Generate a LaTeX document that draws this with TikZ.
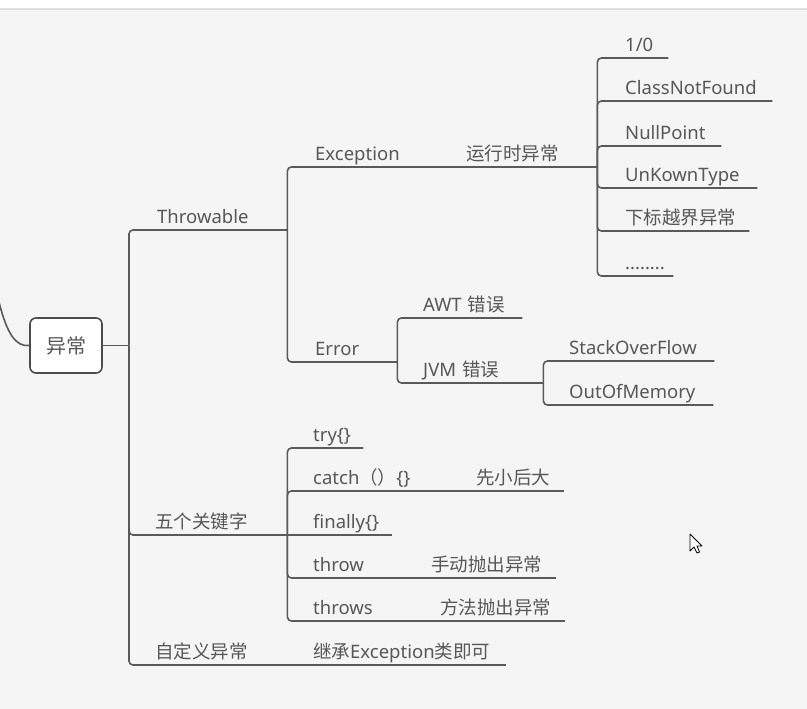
\documentclass[tikz,border=0pt]{standalone}
\usepackage{fontspec}
\setmainfont{Noto Sans}
\newfontfamily\cjk{Noto Sans CJK SC}
\definecolor{linegray}{HTML}{5A5A5A}
\definecolor{textgray}{HTML}{575757}
\definecolor{paper}{HTML}{F5F5F5}

\tikzset{
  topic/.style 2 args={anchor=south west,inner xsep=0pt,inner ysep=6pt,text depth=0pt,
    text width=#1pt,align=left,execute at begin node={\hspace*{#2pt}}},
  branch/.style={draw=linegray,line width=1.6pt,rounded corners=4pt},
  rootbox/.style={draw=linegray!85!black,fill=white,line width=1.6pt,rounded corners=6pt,
    minimum width=72pt,minimum height=55pt,font=\cjk\fontsize{20}{24}\selectfont},
}

\begin{document}
\begin{tikzpicture}[x=1pt,y=-1pt,font=\fontsize{18.5}{22}\selectfont,text=textgray]
    \useasboundingbox (0,0) rectangle (807,709);
    \fill[paper] (-5,-5) rectangle (812,714);
    \fill[white] (-5,-5) rectangle (812,8);
    \draw[black!12,line width=1.5pt] (-5,9) -- (812,9);

    % root
    \node[rootbox] (ROOT) at (66,345.5) {异常};
    \coordinate (IN) at (-1,302);
    \draw[branch] (IN) .. controls (7,334) and (16,347) .. (ROOT.west);

    \node[topic={158}{28}] (THR) at (129,230) {Throwable};
    \node[topic={158}{26}] (KW) at (129,535) {\cjk 五个关键字};
    \node[topic={137}{26}] (CUST) at (129,665) {\cjk 自定义异常};
    \draw[branch] (ROOT.east) -- (ROOT.east -| THR.south west);
    \foreach \n in {THR,KW,CUST}
        \draw[branch] (ROOT.east -| \n.south west) |- (\n.south east);

    % Throwable
    \node[topic={128}{28}] (EXC) at (287,167) {Exception};
    \node[topic={110}{28}] (ERR) at (287,362) {Error};
    \draw[branch] (THR.south east) |- (EXC.south east);
    \draw[branch] (THR.south east) |- (ERR.south east);

    \node[topic={182}{51}] (RTE) at (415,167) {\cjk 运行时异常};
    \draw[branch] (EXC.south east) -- (RTE.south east);

    \node[topic={71}{28}]  (L1) at (597,58)  {1/0};
    \node[topic={175}{28}] (L2) at (597,101) {ClassNotFound};
    \node[topic={124}{28}] (L3) at (597,146) {NullPoint};
    \node[topic={160}{28}] (L4) at (597,188) {UnKownType};
    \node[topic={152}{28}] (L5) at (597,231) {\cjk 下标越界异常};
    \node[topic={76}{28}]  (L6) at (597,276) {........};
    \foreach \n in {L1,L2,L3,L4,L5,L6}
        \draw[branch] (RTE.south east) |- (\n.south east);

    \node[topic={125}{26}] (AWT) at (397,318) {AWT {\cjk 错误}};
    \node[topic={146}{26}] (JVM) at (397,383) {JVM {\cjk 错误}};
    \draw[branch] (ERR.south east) |- (AWT.south east);
    \draw[branch] (ERR.south east) |- (JVM.south east);

    \node[topic={171}{26}] (SO) at (543,361) {StackOverFlow};
    \node[topic={170}{26}] (OOM) at (543,405) {OutOfMemory};
    \draw[branch] (JVM.south east) |- (SO.south east);
    \draw[branch] (JVM.south east) |- (OOM.south east);

    % keywords
    \node[topic={76}{26}]  (TRY) at (287,448) {try\{\}};
    \node[topic={138}{26}] (CATCH) at (287,491) {catch{\cjk （）}\{\}};
    \node[topic={105}{26}] (FIN) at (287,535) {finally\{\}};
    \node[topic={96}{26}]  (THROW) at (287,578) {throw};
    \node[topic={101}{26}] (THROWS) at (287,621) {throws};
    \foreach \n in {TRY,CATCH,THROW,THROWS}
        \draw[branch] (KW.south east) |- (\n.south east);
    \draw[branch] (KW.south east) -- (FIN.south east);

    \node[topic={139}{51}] (SMALL) at (425,491) {\cjk 先小后大};
    \node[topic={173}{48}] (MAN) at (383,578) {\cjk 手动抛出异常};
    \node[topic={177}{52}] (METH) at (388,621) {\cjk 方法抛出异常};
    \draw[branch] (CATCH.south east) -- (SMALL.south east);
    \draw[branch] (THROW.south east) -- (MAN.south east);
    \draw[branch] (THROWS.south east) -- (METH.south east);

    % custom
    \node[topic={240}{47}] (INH) at (266,665) {{\cjk 继承}Exception{\cjk 类即可}};
    \draw[branch] (CUST.south east) -- (INH.south east);

    % pointer
    \draw[black,fill=white,line width=0.8pt,line join=round]
        (690,534) -- (690,551) -- (694,547) -- (697,553) -- (699.5,552) -- (697,546) -- (702,546) -- cycle;
\end{tikzpicture}
\end{document}
